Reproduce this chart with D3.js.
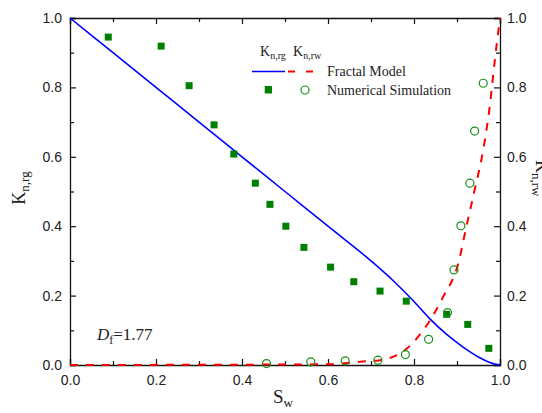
<!DOCTYPE html>
<html>

<head>
  <meta charset="utf-8">
  <script src="https://d3js.org/d3.v7.min.js"></script>
  <style>
    body { margin: 0; background: #fff; }
    .tick text { font-family: "Liberation Sans", Arial, sans-serif; font-size: 14px; fill: #222; }
    .serif { font-family: "Liberation Serif", "Times New Roman", serif; fill: #222; }
  </style>
</head>

<body>
  <script>
    // Numerical simulation, K_n,rg (filled squares)
    const swSquares = [0.089, 0.212, 0.277, 0.335, 0.381, 0.431, 0.461, 0.465, 0.502, 0.544, 0.606, 0.660, 0.721, 0.782, 0.876, 0.925, 0.974];
    const krgSim = [0.945, 0.919, 0.805, 0.692, 0.608, 0.524, 0.794, 0.463, 0.400, 0.339, 0.282, 0.240, 0.213, 0.184, 0.146, 0.117, 0.048];

    // Numerical simulation, K_n,rw (open circles)
    const swCircles = [0.457, 0.560, 0.640, 0.716, 0.780, 0.834, 0.878, 0.893, 0.909, 0.930, 0.941, 0.961];
    const krwSim = [0.004, 0.009, 0.012, 0.014, 0.030, 0.074, 0.151, 0.274, 0.401, 0.524, 0.674, 0.812];

    // Fractal model curves
    const swRg = [0, 0.1, 0.2, 0.3, 0.4, 0.5, 0.6, 0.7, 0.75, 0.8, 0.837, 0.876, 0.915, 0.953, 0.984, 1.0];
    const krgModel = [1, 0.9, 0.8, 0.7, 0.6, 0.5, 0.4, 0.30, 0.245, 0.183, 0.133, 0.088, 0.051, 0.021, 0.004, 0];
    const swRw = [0, 0.6, 0.68, 0.721, 0.779, 0.822, 0.868, 0.903, 0.922, 0.942, 0.961, 0.977, 0.988, 1.0];
    const krwModel = [0, 0.002, 0.01, 0.014, 0.043, 0.101, 0.197, 0.293, 0.40, 0.51, 0.62, 0.754, 0.879, 1.0];

    const majorTicks = [0, 0.2, 0.4, 0.6, 0.8, 1.0];
    const minorTicks = [0.1, 0.3, 0.5, 0.7, 0.9];

    const width = 542, height = 413;
    const margin = { top: 18, right: 42, bottom: 48, left: 70 };
    const w = width - margin.left - margin.right;
    const h = height - margin.top - margin.bottom;

    const svg = d3.select("body").append("svg")
      .attr("width", width)
      .attr("height", height);

    const g = svg.append("g")
      .attr("transform", "translate(" + margin.left + "," + margin.top + ")");

    const x = d3.scaleLinear().domain([0, 1]).range([0, w]);
    const y = d3.scaleLinear().domain([0, 1]).range([h, 0]);
    const fmt = d3.format(".1f");

    //Axes, ticks point inward
    function drawAxis(axisFn, scale, transform, labels, padding) {
      const major = g.append("g").attr("transform", transform)
        .call(axisFn(scale).tickValues(majorTicks).tickSize(-6).tickPadding(padding)
          .tickFormat(labels ? fmt : ""));
      g.append("g").attr("transform", transform)
        .call(axisFn(scale).tickValues(minorTicks).tickSize(-4).tickFormat(""))
        .select(".domain").remove();
      major.selectAll("line, path").attr("stroke", "#111").attr("stroke-width", 1.3);
      return major;
    }
    drawAxis(d3.axisBottom, x, "translate(0," + h + ")", true, 10);
    drawAxis(d3.axisTop, x, "translate(0,0)", false, 0);
    drawAxis(d3.axisLeft, y, "translate(0,0)", true, 8);
    drawAxis(d3.axisRight, y, "translate(" + w + ",0)", true, 7);
    g.selectAll(".tick line").attr("stroke", "#111").attr("stroke-width", 1.2);

    //Model lines
    const line = d3.line().x(d => x(d[0])).y(d => y(d[1])).curve(d3.curveMonotoneX);
    g.append("path")
      .datum(d3.zip(swRg, krgModel))
      .attr("d", line)
      .attr("fill", "none")
      .attr("stroke", "#0000ff")
      .attr("stroke-width", 1.6);

    g.append("path")
      .datum(d3.zip(swRw, krwModel))
      .attr("d", line)
      .attr("fill", "none")
      .attr("stroke", "#ff0000")
      .attr("stroke-width", 2)
      .attr("stroke-dasharray", "8,8");

    //Simulation points
    g.selectAll(".sq")
      .data(d3.zip(swSquares, krgSim))
      .enter().append("rect")
      .attr("class", "sq")
      .attr("x", d => x(d[0]) - 3.5)
      .attr("y", d => y(d[1]) - 3.5)
      .attr("width", 7)
      .attr("height", 7)
      .attr("fill", "#008000");

    g.selectAll(".circ")
      .data(d3.zip(swCircles, krwSim))
      .enter().append("circle")
      .attr("class", "circ")
      .attr("cx", d => x(d[0]))
      .attr("cy", d => y(d[1]))
      .attr("r", 4)
      .attr("fill", "none")
      .attr("stroke", "#1a8f1a")
      .attr("stroke-width", 1.2);

    //Axis titles
    const sTitle = svg.append("text").attr("class", "serif")
      .attr("x", 273).attr("y", 403).style("font-size", "19px");
    sTitle.append("tspan").text("S");
    sTitle.append("tspan").attr("dy", 4).style("font-size", "13px").text("w");

    const leftTitle = svg.append("text").attr("class", "serif")
      .attr("transform", "translate(25,188) rotate(-90)")
      .attr("text-anchor", "middle").style("font-size", "18px");
    leftTitle.append("tspan").text("K");
    leftTitle.append("tspan").attr("dy", 4).style("font-size", "13px").text("n,rg");

    // right title runs off the edge, as in the original figure
    const rightTitle = svg.append("text").attr("class", "serif")
      .attr("transform", "translate(536,160) rotate(90)")
      .style("font-size", "18px");
    rightTitle.append("tspan").text("K");
    rightTitle.append("tspan").attr("dy", 4).style("font-size", "13px").text("n,rw");

    //D_f annotation
    const df = svg.append("text").attr("class", "serif")
      .attr("x", 97).attr("y", 340).style("font-size", "17px");
    df.append("tspan").style("font-style", "italic").text("D");
    df.append("tspan").attr("dy", 4).style("font-size", "12px").text("f");
    df.append("tspan").attr("dy", -4).text("=1.77");

    //Legend
    const legend = svg.append("g");
    [["n,rg", 260], ["n,rw", 293]].forEach(([sub, lx]) => {
      const t = legend.append("text").attr("class", "serif")
        .attr("x", lx).attr("y", 56).style("font-size", "14px");
      t.append("tspan").text("K");
      t.append("tspan").attr("dy", 3).style("font-size", "10px").text(sub);
    });
    legend.append("line").attr("x1", 252).attr("x2", 285).attr("y1", 71.5).attr("y2", 71.5)
      .attr("stroke", "#0000ff").attr("stroke-width", 1.6);
    legend.append("line").attr("x1", 288).attr("x2", 322).attr("y1", 71.5).attr("y2", 71.5)
      .attr("stroke", "#ff0000").attr("stroke-width", 2).attr("stroke-dasharray", "7,11");
    legend.append("rect").attr("x", 265).attr("y", 86.5).attr("width", 7).attr("height", 7)
      .attr("fill", "#008000");
    legend.append("circle").attr("cx", 305).attr("cy", 90).attr("r", 4)
      .attr("fill", "none").attr("stroke", "#1a8f1a").attr("stroke-width", 1.2);
    legend.append("text").attr("class", "serif").attr("x", 327).attr("y", 76)
      .style("font-size", "14px").text("Fractal Model");
    legend.append("text").attr("class", "serif").attr("x", 327).attr("y", 95)
      .style("font-size", "14px").text("Numerical Simulation");
  </script>
</body>

</html>
